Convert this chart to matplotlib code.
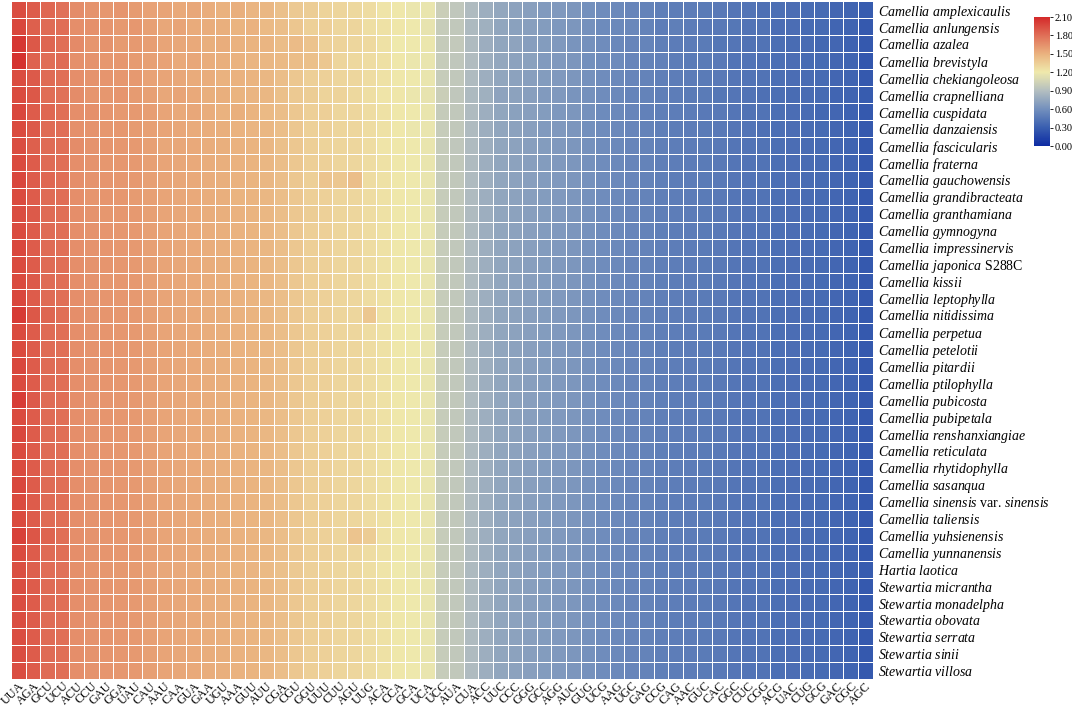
import numpy as np
import matplotlib
matplotlib.use('Agg')
import matplotlib.pyplot as plt
from matplotlib.colors import LinearSegmentedColormap, Normalize

plt.rcParams['font.family'] = ['Liberation Serif', 'DejaVu Serif']
plt.rcParams['mathtext.fontset'] = 'custom'
plt.rcParams['mathtext.rm'] = 'Liberation Serif'
plt.rcParams['mathtext.it'] = 'Liberation Serif:italic'

codons = ['UUA', 'AGA', 'GCU', 'UCU', 'ACU', 'CCU', 'GAU', 'GGA', 'UAU', 'CAU',
          'AAU', 'CAA', 'GUA', 'GAA', 'UGU', 'AAA', 'GUU', 'AUU', 'CGA', 'CGU',
          'GGU', 'UUU', 'CUU', 'AGU', 'UUG', 'ACA', 'CCA', 'GCA', 'UCA', 'UCC',
          'AUA', 'CUA', 'ACC', 'UUC', 'CCC', 'GGG', 'GCC', 'AGG', 'AUC', 'GUG',
          'UCG', 'AAG', 'UGC', 'GAG', 'CCG', 'CAG', 'AAC', 'GUC', 'CAC', 'GGC',
          'CUC', 'CGG', 'ACG', 'UAC', 'CUG', 'GCG', 'GAC', 'CGC', 'AGC']

species = ['Camellia amplexicaulis', 'Camellia anlungensis', 'Camellia azalea',
           'Camellia brevistyla', 'Camellia chekiangoleosa', 'Camellia crapnelliana',
           'Camellia cuspidata', 'Camellia danzaiensis', 'Camellia fascicularis',
           'Camellia fraterna', 'Camellia gauchowensis', 'Camellia grandibracteata',
           'Camellia granthamiana', 'Camellia gymnogyna', 'Camellia impressinervis',
           'Camellia japonica S288C', 'Camellia kissii', 'Camellia leptophylla',
           'Camellia nitidissima', 'Camellia perpetua', 'Camellia petelotii',
           'Camellia pitardii', 'Camellia ptilophylla', 'Camellia pubicosta',
           'Camellia pubipetala', 'Camellia renshanxiangiae', 'Camellia reticulata',
           'Camellia rhytidophylla', 'Camellia sasanqua',
           'Camellia sinensis var. sinensis', 'Camellia taliensis',
           'Camellia yuhsienensis', 'Camellia yunnanensis', 'Hartia laotica',
           'Stewartia micrantha', 'Stewartia monadelpha', 'Stewartia obovata',
           'Stewartia serrata', 'Stewartia sinii', 'Stewartia villosa']

# RSCU values, one string per species (columns follow codons)
rscu_rows = [
    "1.95 1.88 1.83 1.79 1.67 1.64 1.62 1.63 1.60 1.57  1.56 1.54 1.55 1.52 1.50 1.51 1.48 1.47 1.42 1.37  1.35 1.32 1.31 1.29 1.27 1.23 1.21 1.18 1.17 1.01  0.96 0.88 0.80 0.75 0.72 0.70 0.67 0.66 0.64 0.60  0.58 0.56 0.54 0.52 0.50 0.49 0.48 0.47 0.46 0.44  0.43 0.41 0.40 0.39 0.38 0.37 0.35 0.33 0.28",
    "1.97 1.87 1.82 1.81 1.66 1.65 1.63 1.61 1.62 1.58  1.55 1.56 1.53 1.52 1.51 1.49 1.50 1.46 1.43 1.39  1.33 1.34 1.30 1.31 1.26 1.24 1.22 1.19 1.16 1.00  0.97 0.87 0.81 0.74 0.71 0.70 0.68 0.65 0.64 0.61  0.57 0.56 0.55 0.52 0.49 0.50 0.48 0.46 0.46 0.45  0.43 0.42 0.39 0.39 0.37 0.37 0.34 0.33 0.27",
    "2.04 1.90 1.84 1.80 1.68 1.63 1.64 1.60 1.61 1.59  1.56 1.55 1.54 1.51 1.52 1.50 1.49 1.48 1.44 1.45  1.41 1.33 1.32 1.30 1.28 1.24 1.20 1.19 1.18 0.99  0.98 0.88 0.79 0.74 0.73 0.69 0.68 0.66 0.63 0.61  0.58 0.55 0.54 0.53 0.50 0.48 0.48 0.47 0.45 0.44  0.42 0.42 0.40 0.38 0.38 0.36 0.35 0.32 0.27",
    "2.06 1.86 1.81 1.82 1.65 1.64 1.62 1.62 1.60 1.58  1.57 1.54 1.55 1.52 1.51 1.50 1.48 1.47 1.46 1.44  1.42 1.38 1.31 1.29 1.27 1.25 1.21 1.18 1.17 1.00  0.96 0.89 0.80 0.75 0.72 0.71 0.67 0.66 0.64 0.60  0.58 0.57 0.54 0.52 0.51 0.49 0.47 0.47 0.46 0.43  0.43 0.41 0.40 0.39 0.37 0.37 0.35 0.33 0.26",
    "1.95 1.89 1.82 1.80 1.66 1.64 1.63 1.62 1.61 1.57  1.56 1.55 1.53 1.52 1.50 1.50 1.49 1.47 1.43 1.38  1.34 1.33 1.31 1.30 1.27 1.24 1.21 1.19 1.17 1.00  0.97 0.88 0.80 0.74 0.72 0.70 0.68 0.66 0.64 0.61  0.58 0.56 0.54 0.52 0.50 0.49 0.48 0.47 0.46 0.44  0.43 0.42 0.40 0.39 0.38 0.37 0.35 0.33 0.27",
    "1.96 1.90 1.81 1.79 1.67 1.63 1.62 1.63 1.60 1.58  1.55 1.56 1.54 1.51 1.51 1.49 1.48 1.47 1.42 1.37  1.35 1.32 1.32 1.29 1.26 1.23 1.22 1.18 1.16 1.01  0.96 0.87 0.81 0.73 0.72 0.70 0.67 0.66 0.63 0.61  0.58 0.56 0.53 0.52 0.50 0.49 0.47 0.47 0.45 0.44  0.43 0.41 0.40 0.38 0.38 0.37 0.34 0.33 0.28",
    "1.97 1.88 1.83 1.80 1.66 1.65 1.63 1.61 1.61 1.59  1.56 1.54 1.55 1.52 1.50 1.51 1.49 1.46 1.43 1.38  1.34 1.34 1.30 1.30 1.27 1.24 1.21 1.19 1.17 0.99  0.97 0.88 0.80 0.74 0.71 0.70 0.68 0.65 0.64 0.61  0.57 0.56 0.54 0.51 0.50 0.49 0.48 0.46 0.46 0.44  0.42 0.42 0.40 0.39 0.38 0.36 0.35 0.32 0.27",
    "1.96 1.89 1.82 1.81 1.65 1.64 1.62 1.62 1.60 1.58  1.56 1.55 1.53 1.52 1.51 1.50 1.48 1.47 1.43 1.38  1.33 1.33 1.31 1.30 1.27 1.24 1.21 1.18 1.17 1.00  0.97 0.88 0.80 0.74 0.72 0.70 0.67 0.66 0.64 0.60  0.58 0.56 0.54 0.52 0.50 0.49 0.48 0.47 0.46 0.44  0.43 0.41 0.40 0.39 0.38 0.37 0.35 0.33 0.27",
    "1.95 1.87 1.82 1.80 1.67 1.64 1.63 1.62 1.61 1.58  1.55 1.55 1.54 1.52 1.51 1.50 1.49 1.47 1.42 1.38  1.34 1.32 1.31 1.30 1.27 1.23 1.21 1.19 1.17 1.00  0.96 0.88 0.80 0.74 0.72 0.70 0.68 0.66 0.64 0.61  0.58 0.56 0.54 0.52 0.50 0.49 0.48 0.47 0.46 0.44  0.43 0.42 0.40 0.39 0.38 0.37 0.35 0.33 0.27",
    "1.96 1.88 1.82 1.80 1.66 1.64 1.62 1.62 1.61 1.58  1.56 1.55 1.54 1.52 1.51 1.50 1.49 1.47 1.43 1.38  1.34 1.33 1.31 1.30 1.27 1.24 1.21 1.19 1.17 1.00  0.97 0.88 0.80 0.74 0.72 0.70 0.68 0.66 0.64 0.61  0.58 0.56 0.54 0.52 0.50 0.49 0.48 0.47 0.46 0.44  0.43 0.42 0.40 0.39 0.38 0.37 0.35 0.33 0.27",
    "1.97 1.88 1.83 1.80 1.66 1.64 1.63 1.62 1.61 1.58  1.56 1.55 1.54 1.52 1.51 1.50 1.49 1.47 1.43 1.38  1.34 1.40 1.38 1.43 1.27 1.24 1.21 1.19 1.17 1.00  0.97 0.88 0.80 0.74 0.72 0.70 0.68 0.66 0.64 0.61  0.58 0.56 0.54 0.52 0.50 0.49 0.48 0.47 0.46 0.44  0.43 0.42 0.40 0.39 0.38 0.37 0.35 0.33 0.27",
    "1.96 1.88 1.82 1.81 1.66 1.63 1.63 1.62 1.60 1.58  1.56 1.55 1.54 1.52 1.51 1.49 1.49 1.47 1.43 1.38  1.34 1.33 1.31 1.30 1.27 1.24 1.21 1.19 1.17 1.00  0.97 0.88 0.80 0.74 0.72 0.70 0.68 0.66 0.64 0.61  0.58 0.56 0.54 0.52 0.50 0.49 0.48 0.47 0.46 0.44  0.43 0.42 0.40 0.39 0.38 0.37 0.35 0.33 0.27",
    "1.95 1.89 1.82 1.80 1.66 1.64 1.62 1.62 1.61 1.58  1.56 1.55 1.54 1.52 1.51 1.50 1.49 1.47 1.43 1.38  1.35 1.33 1.31 1.30 1.27 1.24 1.21 1.19 1.17 1.00  0.97 0.88 0.80 0.74 0.72 0.70 0.68 0.66 0.64 0.61  0.58 0.56 0.54 0.52 0.50 0.49 0.48 0.47 0.46 0.44  0.43 0.42 0.40 0.39 0.38 0.37 0.35 0.33 0.27",
    "1.96 1.88 1.82 1.80 1.66 1.64 1.63 1.62 1.61 1.58  1.56 1.55 1.54 1.52 1.51 1.50 1.49 1.47 1.43 1.38  1.34 1.33 1.31 1.30 1.27 1.24 1.21 1.19 1.17 1.00  0.97 0.88 0.80 0.74 0.72 0.70 0.68 0.66 0.64 0.61  0.58 0.56 0.54 0.52 0.50 0.49 0.48 0.47 0.46 0.44  0.43 0.42 0.40 0.39 0.38 0.37 0.35 0.33 0.27",
    "1.97 1.88 1.82 1.80 1.66 1.64 1.63 1.62 1.61 1.58  1.56 1.55 1.54 1.52 1.51 1.50 1.49 1.47 1.43 1.38  1.34 1.33 1.31 1.30 1.27 1.24 1.21 1.19 1.17 1.00  0.97 0.88 0.80 0.74 0.72 0.70 0.68 0.66 0.64 0.61  0.58 0.56 0.54 0.52 0.50 0.49 0.48 0.47 0.46 0.44  0.43 0.42 0.40 0.39 0.38 0.37 0.35 0.33 0.27",
    "1.96 1.88 1.82 1.80 1.66 1.64 1.63 1.62 1.61 1.58  1.56 1.55 1.54 1.52 1.51 1.50 1.49 1.47 1.43 1.38  1.34 1.33 1.31 1.30 1.27 1.24 1.21 1.19 1.17 1.00  0.97 0.88 0.80 0.74 0.72 0.70 0.68 0.66 0.64 0.61  0.58 0.56 0.54 0.52 0.50 0.49 0.48 0.47 0.46 0.44  0.43 0.42 0.40 0.39 0.38 0.37 0.35 0.33 0.27",
    "1.96 1.89 1.82 1.80 1.66 1.64 1.62 1.62 1.61 1.58  1.56 1.55 1.54 1.52 1.51 1.50 1.49 1.47 1.43 1.38  1.34 1.33 1.31 1.30 1.27 1.24 1.21 1.19 1.17 1.00  0.97 0.88 0.80 0.74 0.72 0.70 0.68 0.66 0.64 0.61  0.58 0.56 0.54 0.52 0.50 0.49 0.48 0.47 0.46 0.44  0.43 0.42 0.40 0.39 0.38 0.37 0.35 0.33 0.27",
    "1.97 1.88 1.82 1.80 1.66 1.64 1.63 1.62 1.61 1.58  1.56 1.55 1.54 1.52 1.51 1.50 1.49 1.47 1.43 1.38  1.34 1.33 1.31 1.30 1.27 1.24 1.21 1.19 1.17 1.00  0.97 0.88 0.80 0.74 0.72 0.70 0.68 0.66 0.64 0.61  0.58 0.56 0.54 0.52 0.50 0.49 0.48 0.47 0.46 0.44  0.43 0.42 0.40 0.39 0.38 0.37 0.35 0.33 0.27",
    "2.02 1.90 1.84 1.80 1.66 1.64 1.63 1.62 1.61 1.58  1.56 1.55 1.54 1.52 1.51 1.50 1.49 1.47 1.43 1.38  1.34 1.33 1.31 1.30 1.38 1.24 1.21 1.19 1.17 1.00  0.97 0.88 0.80 0.74 0.72 0.70 0.68 0.66 0.64 0.61  0.58 0.56 0.54 0.52 0.50 0.49 0.48 0.47 0.46 0.44  0.43 0.42 0.40 0.39 0.38 0.37 0.35 0.33 0.27",
    "1.96 1.88 1.82 1.80 1.66 1.64 1.63 1.62 1.61 1.58  1.56 1.55 1.54 1.52 1.51 1.50 1.49 1.47 1.43 1.38  1.34 1.33 1.31 1.30 1.27 1.24 1.21 1.19 1.17 1.00  0.97 0.88 0.80 0.74 0.72 0.70 0.68 0.66 0.64 0.61  0.58 0.56 0.54 0.52 0.50 0.49 0.48 0.47 0.46 0.44  0.43 0.42 0.40 0.39 0.38 0.37 0.35 0.33 0.27",
    "1.96 1.88 1.82 1.80 1.66 1.64 1.63 1.62 1.61 1.58  1.56 1.55 1.54 1.52 1.51 1.50 1.49 1.47 1.43 1.38  1.34 1.33 1.31 1.30 1.27 1.24 1.21 1.19 1.17 1.00  0.97 0.88 0.80 0.74 0.72 0.70 0.68 0.66 0.64 0.61  0.58 0.56 0.54 0.52 0.50 0.49 0.48 0.47 0.46 0.44  0.43 0.42 0.40 0.39 0.38 0.37 0.35 0.33 0.27",
    "1.97 1.88 1.82 1.80 1.66 1.64 1.63 1.62 1.61 1.58  1.56 1.55 1.54 1.52 1.51 1.50 1.49 1.47 1.43 1.38  1.34 1.33 1.31 1.30 1.27 1.24 1.21 1.19 1.17 1.00  0.97 0.88 0.80 0.74 0.72 0.70 0.68 0.66 0.64 0.61  0.58 0.56 0.54 0.52 0.50 0.49 0.48 0.47 0.46 0.44  0.43 0.42 0.40 0.39 0.38 0.37 0.35 0.33 0.27",
    "1.96 1.88 1.82 1.80 1.66 1.64 1.63 1.62 1.61 1.58  1.56 1.55 1.54 1.52 1.51 1.50 1.49 1.47 1.43 1.38  1.34 1.33 1.31 1.30 1.27 1.24 1.21 1.19 1.17 1.00  0.97 0.88 0.80 0.74 0.72 0.70 0.68 0.66 0.64 0.61  0.58 0.56 0.54 0.52 0.50 0.49 0.48 0.47 0.46 0.44  0.43 0.42 0.40 0.39 0.38 0.37 0.35 0.33 0.27",
    "2.01 1.89 1.82 1.80 1.66 1.64 1.63 1.62 1.61 1.58  1.56 1.55 1.54 1.52 1.51 1.50 1.49 1.47 1.43 1.38  1.34 1.33 1.31 1.30 1.27 1.24 1.21 1.19 1.17 1.00  0.97 0.88 0.80 0.74 0.72 0.70 0.68 0.66 0.64 0.61  0.58 0.56 0.54 0.52 0.50 0.49 0.48 0.47 0.46 0.44  0.43 0.42 0.40 0.39 0.38 0.37 0.35 0.33 0.27",
    "1.96 1.88 1.82 1.80 1.66 1.64 1.63 1.62 1.61 1.58  1.56 1.55 1.54 1.52 1.51 1.50 1.49 1.47 1.43 1.38  1.34 1.33 1.31 1.30 1.27 1.24 1.21 1.19 1.17 1.00  0.97 0.88 0.80 0.74 0.72 0.70 0.68 0.66 0.64 0.61  0.58 0.56 0.54 0.52 0.50 0.49 0.48 0.47 0.46 0.44  0.43 0.42 0.40 0.39 0.38 0.37 0.35 0.33 0.27",
    "1.97 1.88 1.82 1.80 1.66 1.64 1.63 1.62 1.61 1.58  1.56 1.55 1.54 1.52 1.51 1.50 1.49 1.47 1.43 1.38  1.34 1.33 1.31 1.30 1.27 1.24 1.21 1.19 1.17 1.00  0.97 0.88 0.80 0.74 0.72 0.70 0.68 0.66 0.64 0.61  0.58 0.56 0.54 0.52 0.50 0.49 0.48 0.47 0.46 0.44  0.43 0.42 0.40 0.39 0.38 0.37 0.35 0.33 0.27",
    "1.96 1.88 1.82 1.80 1.66 1.64 1.63 1.62 1.61 1.58  1.56 1.55 1.54 1.52 1.51 1.50 1.49 1.47 1.43 1.38  1.34 1.33 1.31 1.30 1.27 1.24 1.21 1.19 1.17 1.00  0.97 0.88 0.80 0.74 0.72 0.70 0.68 0.66 0.64 0.61  0.58 0.56 0.54 0.52 0.50 0.49 0.48 0.47 0.46 0.44  0.43 0.42 0.40 0.39 0.38 0.37 0.35 0.33 0.27",
    "1.96 1.88 1.82 1.80 1.66 1.64 1.63 1.62 1.61 1.58  1.56 1.55 1.54 1.52 1.51 1.50 1.49 1.47 1.43 1.38  1.34 1.33 1.31 1.30 1.27 1.24 1.21 1.19 1.17 1.00  0.97 0.88 0.80 0.74 0.72 0.70 0.68 0.66 0.64 0.61  0.58 0.56 0.54 0.52 0.50 0.49 0.48 0.47 0.46 0.44  0.43 0.42 0.40 0.39 0.38 0.37 0.35 0.33 0.27",
    "1.97 1.88 1.82 1.80 1.66 1.64 1.63 1.62 1.61 1.58  1.56 1.55 1.54 1.52 1.51 1.50 1.49 1.47 1.43 1.38  1.34 1.33 1.31 1.30 1.27 1.24 1.21 1.19 1.17 1.00  0.97 0.88 0.80 0.74 0.72 0.70 0.68 0.66 0.64 0.61  0.58 0.56 0.54 0.52 0.50 0.49 0.48 0.47 0.46 0.44  0.43 0.42 0.40 0.39 0.38 0.37 0.35 0.33 0.27",
    "1.96 1.88 1.82 1.80 1.66 1.64 1.63 1.62 1.61 1.58  1.56 1.55 1.54 1.52 1.51 1.50 1.49 1.47 1.43 1.38  1.34 1.33 1.31 1.30 1.27 1.24 1.21 1.19 1.17 1.00  0.97 0.88 0.80 0.74 0.72 0.70 0.68 0.66 0.64 0.61  0.58 0.56 0.54 0.52 0.50 0.49 0.48 0.47 0.46 0.44  0.43 0.42 0.40 0.39 0.38 0.37 0.35 0.33 0.27",
    "1.96 1.88 1.82 1.80 1.66 1.64 1.63 1.62 1.61 1.58  1.56 1.55 1.54 1.52 1.51 1.50 1.49 1.47 1.43 1.38  1.34 1.33 1.31 1.30 1.27 1.24 1.21 1.19 1.17 1.00  0.97 0.88 0.80 0.74 0.72 0.70 0.68 0.66 0.64 0.61  0.58 0.56 0.54 0.52 0.50 0.49 0.48 0.47 0.46 0.44  0.43 0.42 0.40 0.39 0.38 0.37 0.35 0.33 0.27",
    "2.00 1.91 1.85 1.80 1.66 1.64 1.63 1.62 1.61 1.58  1.56 1.55 1.54 1.52 1.51 1.50 1.49 1.47 1.43 1.38  1.34 1.33 1.31 1.40 1.36 1.24 1.21 1.19 1.17 1.00  0.97 0.88 0.80 0.74 0.72 0.70 0.68 0.66 0.64 0.61  0.58 0.56 0.54 0.52 0.50 0.49 0.48 0.47 0.46 0.44  0.43 0.42 0.40 0.39 0.38 0.37 0.35 0.33 0.27",
    "1.96 1.88 1.82 1.80 1.66 1.64 1.63 1.62 1.61 1.58  1.56 1.55 1.54 1.52 1.51 1.50 1.49 1.47 1.43 1.38  1.34 1.33 1.31 1.30 1.27 1.24 1.21 1.19 1.17 1.00  0.97 0.88 0.80 0.74 0.72 0.70 0.68 0.66 0.64 0.61  0.58 0.56 0.54 0.52 0.50 0.49 0.48 0.47 0.46 0.44  0.43 0.42 0.40 0.39 0.38 0.37 0.35 0.33 0.27",
    "1.94 1.87 1.81 1.79 1.65 1.63 1.62 1.61 1.60 1.57  1.55 1.54 1.53 1.51 1.50 1.49 1.48 1.46 1.42 1.37  1.33 1.32 1.30 1.29 1.26 1.23 1.20 1.18 1.16 1.00  0.96 0.87 0.80 0.74 0.72 0.70 0.68 0.66 0.64 0.61  0.58 0.56 0.54 0.52 0.50 0.49 0.48 0.47 0.46 0.44  0.43 0.42 0.40 0.39 0.38 0.37 0.35 0.33 0.28",
    "1.95 1.88 1.82 1.80 1.66 1.64 1.63 1.62 1.61 1.58  1.56 1.55 1.54 1.52 1.51 1.50 1.49 1.47 1.43 1.38  1.34 1.33 1.31 1.30 1.27 1.24 1.21 1.19 1.17 1.00  0.97 0.88 0.80 0.74 0.72 0.70 0.68 0.66 0.64 0.61  0.58 0.56 0.54 0.52 0.50 0.49 0.48 0.47 0.46 0.44  0.43 0.42 0.40 0.39 0.38 0.37 0.35 0.33 0.27",
    "1.95 1.88 1.82 1.80 1.66 1.64 1.63 1.62 1.61 1.58  1.56 1.55 1.54 1.52 1.51 1.50 1.49 1.47 1.43 1.38  1.34 1.33 1.31 1.30 1.27 1.24 1.21 1.19 1.17 1.00  0.97 0.88 0.80 0.74 0.72 0.70 0.68 0.66 0.64 0.61  0.58 0.56 0.54 0.52 0.50 0.49 0.48 0.47 0.46 0.44  0.43 0.42 0.40 0.39 0.38 0.37 0.35 0.33 0.27",
    "1.95 1.88 1.82 1.80 1.66 1.64 1.63 1.62 1.61 1.58  1.56 1.55 1.54 1.52 1.51 1.50 1.49 1.47 1.43 1.38  1.34 1.33 1.31 1.30 1.27 1.24 1.21 1.19 1.17 1.00  0.97 0.88 0.80 0.74 0.72 0.70 0.68 0.66 0.64 0.61  0.58 0.56 0.54 0.52 0.50 0.49 0.48 0.47 0.46 0.44  0.43 0.42 0.40 0.39 0.38 0.37 0.35 0.33 0.27",
    "1.95 1.88 1.82 1.80 1.66 1.64 1.63 1.62 1.61 1.58  1.56 1.55 1.54 1.52 1.51 1.50 1.49 1.47 1.43 1.38  1.34 1.33 1.31 1.30 1.27 1.24 1.21 1.19 1.17 1.00  0.97 0.88 0.80 0.74 0.72 0.70 0.68 0.66 0.64 0.61  0.58 0.56 0.54 0.52 0.50 0.49 0.48 0.47 0.46 0.44  0.43 0.42 0.40 0.39 0.38 0.37 0.35 0.33 0.27",
    "1.95 1.88 1.82 1.80 1.66 1.64 1.63 1.62 1.61 1.58  1.56 1.55 1.54 1.52 1.51 1.50 1.49 1.47 1.43 1.38  1.34 1.33 1.31 1.30 1.27 1.24 1.21 1.19 1.17 1.00  0.97 0.88 0.80 0.74 0.72 0.70 0.68 0.66 0.64 0.61  0.58 0.56 0.54 0.52 0.50 0.49 0.48 0.47 0.46 0.44  0.43 0.42 0.40 0.39 0.38 0.37 0.35 0.33 0.27",
    "1.95 1.88 1.82 1.80 1.66 1.64 1.63 1.62 1.61 1.58  1.56 1.55 1.54 1.52 1.51 1.50 1.49 1.47 1.43 1.38  1.34 1.33 1.31 1.30 1.27 1.24 1.21 1.19 1.17 1.00  0.97 0.88 0.80 0.74 0.72 0.70 0.68 0.66 0.64 0.61  0.58 0.56 0.54 0.52 0.50 0.49 0.48 0.47 0.46 0.44  0.43 0.42 0.40 0.39 0.38 0.37 0.35 0.33 0.27",
]

cbar_ticks = [0.0, 0.3, 0.6, 0.9, 1.2, 1.5, 1.8, 2.1]
cbar_colors = ['#0d2ba3', '#3a5fb0', '#7390bd', '#b3bec0',
               '#efe9ac', '#eab27f', '#e07058', '#d42a2a']

rscu = np.array([[float(v) for v in r.split()] for r in rscu_rows])
assert rscu.shape == (len(species), len(codons)), rscu.shape

cmap = LinearSegmentedColormap.from_list(
    'rscu', [(t / 2.1, c) for t, c in zip(cbar_ticks, cbar_colors)])
norm = Normalize(vmin=0, vmax=2.1)


def italic_label(name):
    # genus/species in italics, "var." and strain code upright
    parts = []
    for word in name.split():
        if word in ('var.', 'S288C'):
            parts.append(word)
        else:
            parts.append(r'$\mathit{%s}$' % word)
    return ' '.join(parts)


fig = plt.figure(figsize=(10.72, 7.09), dpi=100)
ax = fig.add_axes([0.0103, 0.042, 0.8037, 0.956])
mesh = ax.pcolormesh(rscu, cmap=cmap, norm=norm, edgecolors='white', linewidth=0.7)
ax.set_xlim(0, len(codons))
ax.set_ylim(len(species), 0)

ax.yaxis.tick_right()
ax.set_xticks(np.arange(len(codons)) + 0.5)
ax.set_xticklabels(codons, rotation=45, ha='right', rotation_mode='anchor', fontsize=8.8)
ax.set_yticks(np.arange(len(species)) + 0.5)
ax.set_yticklabels([italic_label(s) for s in species], fontsize=10)
ax.tick_params(axis='both', length=0)
ax.tick_params(axis='x', pad=0.5)
ax.tick_params(axis='y', pad=4)
for sp in ax.spines.values():
    sp.set_visible(False)

cax = fig.add_axes([0.9646, 0.794, 0.0149, 0.182])
cb = fig.colorbar(mesh, cax=cax, ticks=cbar_ticks)
cb.ax.set_yticklabels(['%.2f' % t for t in cbar_ticks], fontsize=7.5)
cb.ax.tick_params(length=2.5, width=0.6, pad=1)
cb.outline.set_visible(False)

fig.savefig('out.png', dpi=100)
